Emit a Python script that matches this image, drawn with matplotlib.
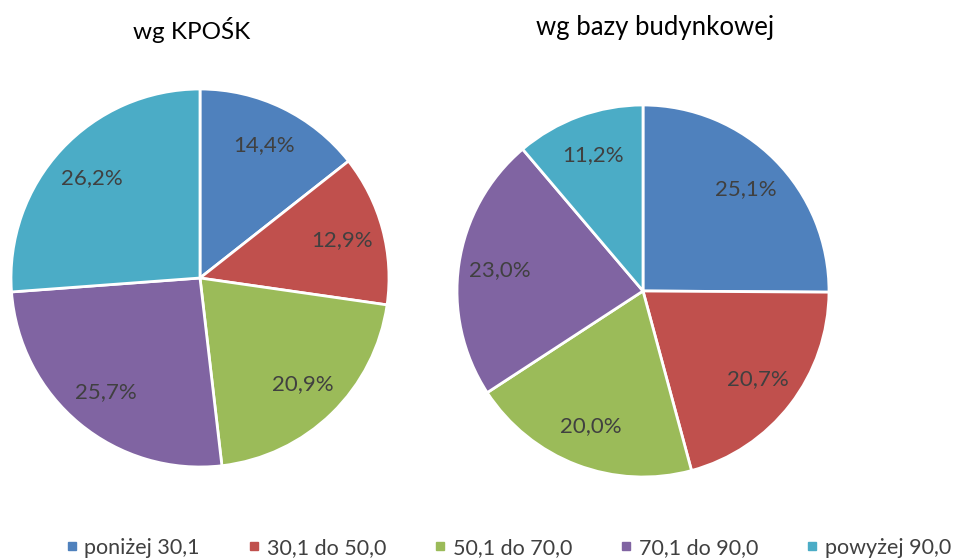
import matplotlib.pyplot as plt
from matplotlib.lines import Line2D

plt.rcParams['font.family'] = ['Lato', 'DejaVu Sans']

categories = ['poniżej 30,1', '30,1 do 50,0', '50,1 do 70,0', '70,1 do 90,0', 'powyżej 90,0']
kposk = [14.4, 12.9, 20.9, 25.7, 26.2]
baza = [25.1, 20.7, 20.0, 23.0, 11.2]
titles = ['wg KPOŚK', 'wg bazy budynkowej']

colors = ['#4F81BD', '#C0504D', '#9BBB59', '#8064A2', '#4BACC6']
txt_col = '#404040'

W, H = 960, 560
fig = plt.figure(figsize=(W / 100, H / 100), dpi=100)


def draw_pie(values, cx, cy, r):
    # cx, cy, r in pixels, cy from top
    ax = fig.add_axes([(cx - r) / W, (H - cy - r) / H, 2 * r / W, 2 * r / H])
    labs = iter(values)
    ax.pie(values, colors=colors, startangle=90, counterclock=False,
           normalize=True,
           autopct=lambda p: f'{next(labs):.1f}%'.replace('.', ','),
           pctdistance=0.78,
           wedgeprops=dict(edgecolor='white', linewidth=2),
           textprops=dict(color=txt_col, fontsize=16))
    ax.set_xlim(-1, 1)
    ax.set_ylim(-1, 1)
    ax.set_aspect('equal')
    ax.axis('off')
    return ax


draw_pie(kposk, 200, 278, 189)
draw_pie(baza, 643, 291, 186)

fig.text(192 / W, 1 - 30 / H, titles[0], ha='center', va='center', fontsize=17.5, color='black')
fig.text(655 / W, 1 - 28 / H, titles[1], ha='center', va='center', fontsize=18.5, color='black')

handles = [Line2D([], [], marker='s', linestyle='none', markersize=6,
                  markerfacecolor=c, markeredgecolor=c) for c in colors]
fig.legend(handles, categories, loc='center', bbox_to_anchor=(506 / W, 1 - 548 / H),
           ncol=5, frameon=False, fontsize=15.5, labelcolor=txt_col,
           handletextpad=0.1, columnspacing=2.0, handlelength=1.0)

fig.savefig('out.png', dpi=100, facecolor='white')
